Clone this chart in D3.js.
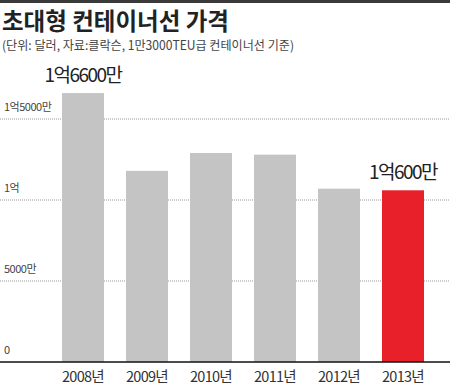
<!DOCTYPE html>
<html>
<head>
<meta charset="utf-8">
<script src="https://cdn.jsdelivr.net/npm/d3@7"></script>
<style>
  body { margin: 0; background: #fff; }
  svg { display: block; font-family: "Noto Sans CJK KR", sans-serif; }
</style>
</head>
<body>
<div id="chart"></div>
<script>
// values in 만 달러 units
const years = ['2008년', '2009년', '2010년', '2011년', '2012년', '2013년']
const prices = [16600, 11800, 12900, 12800, 10700, 10600]
const tickValues = [0, 5000, 10000, 15000]
const tickLabels = ['0', '5000만', '1억', '1억5000만']
const valueLabels = { '2008년': '1억6600만', '2013년': '1억600만' }

const width = 450, height = 387

const svg = d3.select('#chart').append('svg')
    .attr('width', width)
    .attr('height', height)

const x = d3.scaleBand()
    .domain(years)
    .range([51, 435])
    .paddingInner(0.344)
    .paddingOuter(0.172)

const y = d3.scaleLinear()
    .domain([0, 15000])
    .range([362, 119])

// top rule
svg.append('rect')
    .attr('x', 0).attr('y', 0)
    .attr('width', width).attr('height', 3)
    .style('fill', '#3a3a3a')

// title
svg.append('text')
    .attr('x', 2).attr('y', 30)
    .style('font-size', '23.5px')
    .style('font-weight', 700)
    .style('fill', '#222')
    .text('초대형 컨테이너선 가격')

svg.append('text')
    .attr('x', 2).attr('y', 50)
    .style('font-size', '12.5px')
    .style('fill', '#444')
    .attr('textLength', 292)
    .attr('lengthAdjust', 'spacingAndGlyphs')
    .text('(단위: 달러, 자료:클락슨, 1만3000TEU급 컨테이너선 기준)')

// grid lines (dotted)
svg.selectAll('.grid')
    .data(tickValues.slice(1))
    .enter()
    .append('line')
    .attr('class', 'grid')
    .attr('x1', 0).attr('x2', width)
    .attr('y1', d => y(d)).attr('y2', d => y(d))
    .style('stroke', '#9a9a9a')
    .style('stroke-width', 1)
    .style('stroke-dasharray', '1,1')

// tick labels
svg.selectAll('.tickLabel')
    .data(tickValues)
    .enter()
    .append('text')
    .attr('class', 'tickLabel')
    .attr('x', 4)
    .attr('y', d => y(d) - 8)
    .style('font-size', '11px')
    .style('fill', '#444')
    .style('letter-spacing', '-0.5px')
    .text((d, i) => tickLabels[i])

// bars
svg.selectAll('.bar')
    .data(years)
    .enter()
    .append('rect')
    .attr('class', 'bar')
    .attr('x', d => x(d))
    .attr('y', (d, i) => y(prices[i]))
    .attr('width', x.bandwidth())
    .attr('height', (d, i) => y(0) - y(prices[i]))
    .style('fill', (d, i) => i === years.length - 1 ? '#e8202a' : '#c4c4c4')

// baseline
svg.append('line')
    .attr('x1', 0).attr('x2', width)
    .attr('y1', y(0)).attr('y2', y(0))
    .style('stroke', '#111')
    .style('stroke-width', 1.5)

// x labels
svg.selectAll('.xLabel')
    .data(years)
    .enter()
    .append('text')
    .attr('class', 'xLabel')
    .attr('x', d => x(d) + x.bandwidth() / 2)
    .attr('y', 382)
    .attr('text-anchor', 'middle')
    .style('font-size', '14.5px')
    .style('fill', '#333')
    .style('letter-spacing', '-0.7px')
    .text(d => d)

// value labels
svg.selectAll('.valLabel')
    .data(years.filter(d => valueLabels[d]))
    .enter()
    .append('text')
    .attr('class', 'valLabel')
    .attr('x', d => x(d) + x.bandwidth() / 2)
    .attr('y', d => y(prices[years.indexOf(d)]) - 11)
    .attr('text-anchor', 'middle')
    .style('font-size', '19px')
    .style('fill', '#222')
    .style('letter-spacing', '-1.5px')
    .text(d => valueLabels[d])
</script>
</body>
</html>
